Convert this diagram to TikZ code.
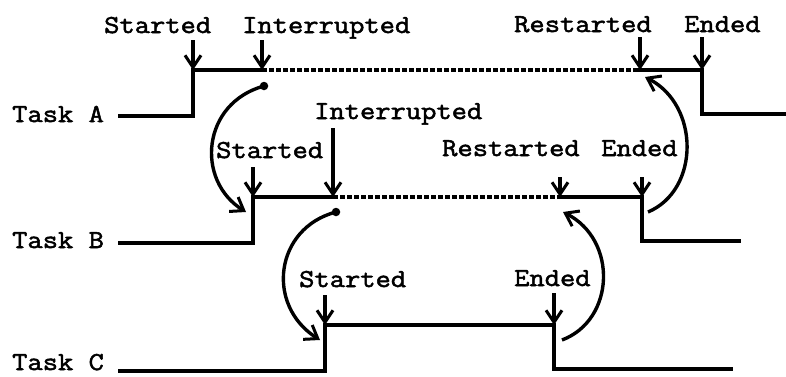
\documentclass[tikz,border=0pt]{standalone}
\usepackage{fontspec}
\setmonofont[FakeStretch=1.15, FakeBold=2]{Latin Modern Mono}
\usetikzlibrary{arrows.meta}

\tikzset{
  timeline/.style={line width=3.2pt, line cap=rect, line join=miter},
  idle/.style={line width=3.4pt, dash pattern=on 5pt off 2pt},
  marker/.style={line width=3.2pt, -{Straight Barb[length=12pt, width=16pt, line width=3pt]}},
  handoff/.style={line width=3.4pt, -{Straight Barb[length=12pt, width=17pt, line width=3pt]}},
  event/.style={font=\ttfamily\fontsize{25.8}{30}\selectfont, inner sep=0pt, anchor=base west},
  task/.style={font=\ttfamily\fontsize{25.8}{30}\selectfont, inner sep=0pt, anchor=base west},
  dot/.style={circle, fill, inner sep=0pt, minimum size=8.5pt},
}

\begin{document}
\begin{tikzpicture}[x=1pt, y=-1pt]
  \useasboundingbox (0,0) rectangle (786,376);

  % ---- Task A ----
  \node[task] (tA) at (12,122) {Task A};
  \coordinate (A0) at (120,116);
  \coordinate (A1) at (193,116);
  \coordinate (A2) at (193,70);
  \coordinate (A3) at (262,70);
  \coordinate (A4) at (640,70);
  \coordinate (A5) at (702,70);
  \coordinate (A6) at (702,114);
  \coordinate (A7) at (786,114);
  \draw[timeline] (A0) -- (A1) -- (A2) -- (A3);
  \draw[idle] (A3) -- (A4);
  \draw[timeline] (A4) -- (A5) -- (A6) -- (A7);

  \node[event] (aStart) at (104,33) {Started};
  \node[event] (aInt)   at (242,33) {Interrupted};
  \node[event] (aRes)   at (514,32) {Restarted};
  \node[event] (aEnd)   at (684,32) {Ended};
  \coordinate (aStartT) at (193,40);
  \coordinate (aIntT)   at (262,40);
  \coordinate (aResT)   at (640,37);
  \coordinate (aEndT)   at (702,37);
  \draw[marker] (aStartT) -- (A2);
  \draw[marker] (aIntT) -- (A3);
  \draw[marker] (aResT) -- (A4);
  \draw[marker] (aEndT) -- (A5);

  % ---- Task B ----
  \node[task] (tB) at (12,248) {Task B};
  \coordinate (B0) at (120,243);
  \coordinate (B1) at (253,243);
  \coordinate (B2) at (253,197);
  \coordinate (B3) at (333,197);
  \coordinate (B4) at (560,197);
  \coordinate (B5) at (642,197);
  \coordinate (B6) at (642,241);
  \coordinate (B7) at (739,241);
  \draw[timeline] (B0) -- (B1) -- (B2) -- (B3);
  \draw[idle] (B3) -- (B4);
  \draw[timeline] (B4) -- (B5) -- (B6) -- (B7);

  \node[event] (bStart) at (216,158) {Started};
  \node[event] (bInt)   at (314,119) {Interrupted};
  \node[event] (bRes)   at (442,156) {Restarted};
  \node[event] (bEnd)   at (601,156) {Ended};
  \coordinate (bStartT) at (253,167);
  \coordinate (bIntT)   at (333,128);
  \coordinate (bResT)   at (560,177);
  \coordinate (bEndT)   at (642,177);
  \draw[marker] (bStartT) -- (B2);
  \draw[marker] (bIntT) -- (B3);
  \draw[marker] (bResT) -- (B4);
  \draw[marker] (bEndT) -- (B5);

  % ---- Task C ----
  \node[task] (tC) at (12,370) {Task C};
  \coordinate (C0) at (120,371);
  \coordinate (C1) at (325,371);
  \coordinate (C2) at (325,325);
  \coordinate (C3) at (554,325);
  \coordinate (C4) at (554,369);
  \coordinate (C5) at (731,369);
  \draw[timeline] (C0) -- (C1) -- (C2) -- (C3) -- (C4) -- (C5);

  \node[event] (cStart) at (299,287) {Started};
  \node[event] (cEnd)   at (514,286) {Ended};
  \coordinate (cStartT) at (325,295);
  \coordinate (cEndT)   at (554,293);
  \draw[marker] (cStartT) -- (C2);
  \draw[marker] (cEndT) -- (C3);

  % ---- control hand-offs between tasks ----
  \node[dot] (ab) at (264,86) {};
  \coordinate (abEnd) at (246,212);
  \draw[handoff] (ab.center) .. controls (202,103) and (195,180) .. (abEnd);

  \node[dot] (bc) at (336,212) {};
  \coordinate (bcEnd) at (320,340);
  \draw[handoff] (bc.center) .. controls (275,228) and (265,305) .. (bcEnd);

  \coordinate (cbStart) at (562,340);
  \coordinate (cbEnd) at (563,212);
  \draw[handoff] (cbStart) .. controls (615,320) and (618,240) .. (cbEnd);

  \coordinate (baStart) at (648,212);
  \coordinate (baEnd) at (645,77);
  \draw[handoff] (baStart) .. controls (700,190) and (700,105) .. (baEnd);
\end{tikzpicture}
\end{document}
